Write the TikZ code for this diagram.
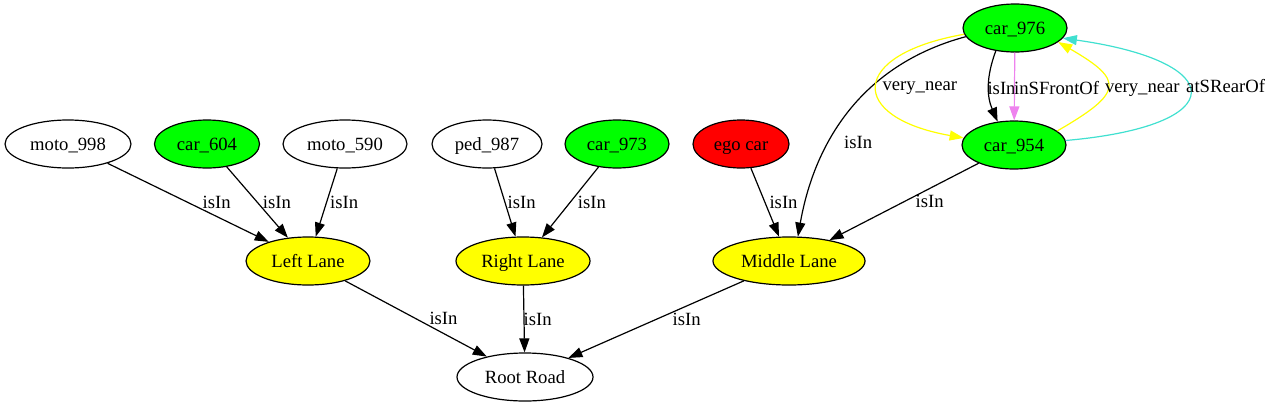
\documentclass[tikz,border=0pt]{standalone}
\usepackage{fontspec}
\setmainfont{Liberation Serif}
\usetikzlibrary{arrows.meta}
\usetikzlibrary{shapes.geometric}

\definecolor{gvgreen}{RGB}{0,255,0}
\definecolor{gvyellow}{RGB}{255,255,0}
\definecolor{gvred}{RGB}{255,0,0}
\definecolor{gvviolet}{RGB}{238,130,238}
\definecolor{gvturquoise}{RGB}{64,224,208}

\begin{document}
\begin{tikzpicture}[x=1pt,y=-1pt,
    every node/.style={font=\fontsize{18.67}{22}\selectfont},
    obj/.style={draw,ellipse,line width=1.2pt,inner sep=0pt,minimum height=48pt,
      text height=15pt,text depth=2pt},
    lbl/.style={anchor=west,inner sep=0pt},
    every edge/.style={draw,->,line width=1.2pt},
    >={Triangle[length=14pt,width=10pt]}]

  \useasboundingbox (0,0) rectangle (1273,407);

  % top row
  \node [obj,minimum width=126pt] (moto998) at (68,144) {moto\_998};
  \node [obj,fill=gvgreen,minimum width=105pt] (car604) at (207,144) {car\_604};
  \node [obj,minimum width=124pt] (moto590) at (345,144) {moto\_590};
  \node [obj,minimum width=110pt] (ped987) at (487,144) {ped\_987};
  \node [obj,fill=gvgreen,minimum width=104pt] (car973) at (617,144) {car\_973};
  \node [obj,fill=gvred,minimum width=96pt] (ego) at (741,144) {ego car};
  \node [obj,fill=gvgreen,minimum width=104pt] (car976) at (1015,28) {car\_976};
  \node [obj,fill=gvgreen,minimum width=104pt] (car954) at (1014,145) {car\_954};

  % lanes and road
  \node [obj,fill=gvyellow,minimum width=124pt] (left) at (308,261) {Left Lane};
  \node [obj,fill=gvyellow,minimum width=134pt] (right) at (523,261) {Right Lane};
  \node [obj,fill=gvyellow,minimum width=152pt] (middle) at (789,261) {Middle Lane};
  \node [obj,minimum width=136pt] (root) at (525,377) {Root Road};

  \path
    (moto998) edge node [lbl,pos=0.5,xshift=14pt] {isIn} (left)
    (car604) edge node [lbl,pos=0.5,xshift=5pt] {isIn} (left)
    (moto590) edge node [lbl,pos=0.5,xshift=3pt] {isIn} (left)
    (ped987) edge node [lbl,pos=0.5,xshift=2pt] {isIn} (right)
    (car973) edge node [lbl,pos=0.5,xshift=7pt] {isIn} (right)
    (ego) edge node [lbl,pos=0.5,xshift=4pt] {isIn} (middle)
    (car954) edge node [lbl,pos=0.5,xshift=11pt] {isIn} (middle)
    (left) edge node [lbl,pos=0.5,xshift=13pt] {isIn} (root)
    (right) edge node [lbl,pos=0.5,xshift=-1pt] {isIn} (root)
    (middle) edge node [lbl,pos=0.5,xshift=16pt] {isIn} (root);

  \path
    (car976.190) edge [out=195,in=80] node [lbl,pos=0.65,xshift=14pt] {isIn} (middle.70)
    (car976.230) edge [bend right=22] node [lbl,pos=0.5,xshift=-2pt,yshift=-2pt] {isIn} (car954.125)
    (car976) edge [draw=gvviolet] node [lbl,pos=0.5,xshift=-1pt,yshift=-2pt] {inSFrontOf} (car954)
    (car976.187) edge [draw=gvyellow,out=190,in=170,looseness=2.9] node [lbl,pos=0.5,xshift=5pt,yshift=-2pt] {very\_near} (car954.172)
    (car954.18) edge [draw=gvyellow,out=30,in=-30,looseness=2.2] node [lbl,pos=0.5,xshift=-3pt,yshift=-4pt] {very\_near} (car976.342)
    (car954.5) edge [draw=gvturquoise,out=5,in=-8,looseness=4.2] node [lbl,pos=0.5,xshift=-4pt,yshift=7pt] {atSRearOf} (car976.348);

\end{tikzpicture}
\end{document}
